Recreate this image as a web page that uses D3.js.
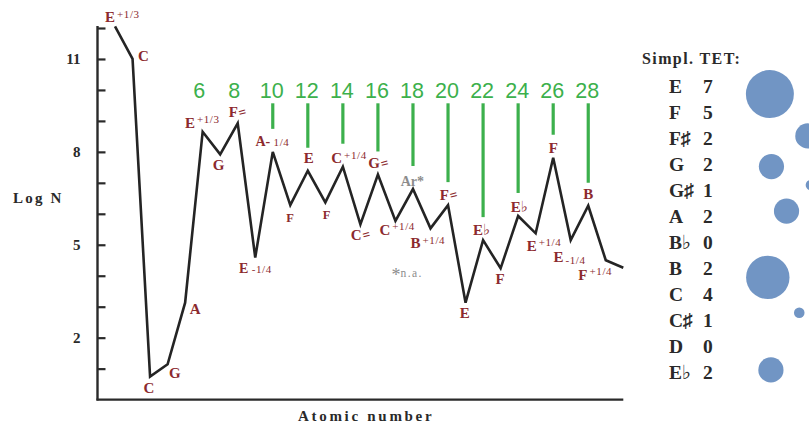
<!DOCTYPE html>
<html>
<head>
<meta charset="utf-8">
<script src="https://cdn.jsdelivr.net/npm/d3@7"></script>
<style>
  html, body { margin: 0; padding: 0; background: #fff; }
  svg { display: block; }
</style>
</head>
<body>
<svg id="chart" width="809" height="425"></svg>
<script>
// Solar-system abundances (log N) by atomic number, with the tone each point suggests
const atomicNumbers = d3.range(1, 31);
const logN = [12.05, 11.0, 0.74, 1.14, 3.13, 8.65, 7.92, 8.92, 4.59, 8.0,
              6.28, 7.39, 6.37, 7.52, 5.66, 7.27, 5.77, 6.8, 5.53, 6.28,
              3.13, 5.15, 4.24, 5.93, 5.37, 7.81, 5.15, 6.26, 4.5, 4.26];
// "^" raised suffix, "_" lowered suffix, "~" small suffix on the baseline, "=" quarter-tone sign
const noteLabels = ["E^+1/3", "C", "C", "G", "A", "E^+1/3", "G", "F=", "E~ -1/4", "A-~ 1/4",
                    "F", "E", "F", "C^+1/4", "C=", "G=", "C^+1/4", "Ar*", "B^+1/4", "F=",
                    "E", "E♭", "F", "E♭", "E^+1/4", "F", "E_-1/4", "B", "F^+1/4", ""];
const evenPeaks = [6, 8, 10, 12, 14, 16, 18, 20, 22, 24, 26, 28];
const markedPeaks = [10, 12, 14, 16, 18, 20, 22, 24, 26, 28];
const yTickValues = d3.range(1, 13);
const yTickLabels = [2, 5, 8, 11];

// Simplified equal-temperament tally
const tetNotes = ["E", "F", "F♯", "G", "G♯", "A", "B♭", "B", "C", "C♯", "D", "E♭"];
const tetCounts = [7, 5, 2, 2, 1, 2, 0, 2, 4, 1, 0, 2];
const bubbleCounts = [7, 2, 2, 1, 2, 5, 1, 2];

// ---- layout ----
const svg = d3.select("#chart");
const serif = "'Liberation Serif', 'DejaVu Serif', serif";
const sans = "'Liberation Sans', Arial, sans-serif";
const red = "#8c2a2e";
const ink = "#2a2a2a";
const green = "#3cb04c";

const x = d3.scaleLinear().domain([0, 30]).range([97.5, 623.3]);
const y = d3.scaleLinear().domain([0, 12]).range([399.6, 28]);

// y axis: ticks point inward
const yAxis = d3.axisLeft(y)
  .tickValues(yTickValues)
  .tickSizeInner(-8)
  .tickSizeOuter(0)
  .tickPadding(17)
  .tickFormat(d => yTickLabels.includes(d) ? d : "");
const gy = svg.append("g").attr("transform", `translate(${x(0)},0)`).call(yAxis);
gy.select(".domain").attr("stroke", ink).attr("stroke-width", 2.4)
  .attr("d", `M0,${y(0) + 1}V${y(12) - 2}`);
gy.selectAll(".tick line").attr("stroke", ink).attr("stroke-width", 2.2);
gy.selectAll(".tick text")
  .attr("fill", ink).attr("font-family", serif).attr("font-weight", "bold")
  .attr("font-size", 15);

// x axis: a plain baseline
const xAxis = d3.axisBottom(x).tickValues([]).tickSizeOuter(0);
const gx = svg.append("g").attr("transform", `translate(0,${y(0)})`).call(xAxis);
gx.select(".domain").attr("stroke", ink).attr("stroke-width", 2.4)
  .attr("d", `M${x(0) - 1},0H${x(30)}`);

svg.append("text")
  .attr("x", 13).attr("y", 203)
  .attr("font-family", serif).attr("font-weight", "bold").attr("font-size", 15)
  .attr("letter-spacing", 2.2).attr("fill", ink)
  .text("Log N");
svg.append("text")
  .attr("x", 298).attr("y", 421)
  .attr("font-family", serif).attr("font-weight", "bold").attr("font-size", 15)
  .attr("letter-spacing", 2.7).attr("fill", ink)
  .text("Atomic number");

// even-number peak markers
const vById = new Map(atomicNumbers.map((z, i) => [z, logN[i]]));
svg.append("g").selectAll("line")
  .data(markedPeaks).join("line")
  .attr("x1", d => x(d)).attr("x2", d => x(d))
  .attr("y1", 103.3).attr("y2", d => y(vById.get(d)) - 23)
  .attr("stroke", green).attr("stroke-width", 3.2);
svg.append("g").selectAll("text")
  .data(evenPeaks).join("text")
  .attr("x", d => x(d) + (d < 10 ? -3.5 : -1)).attr("y", 97.5)
  .attr("text-anchor", "middle")
  .attr("font-family", sans).attr("font-size", 21.5)
  .attr("fill", green)
  .text(d => d);

// abundance curve
const line = d3.line().x((d, i) => x(atomicNumbers[i])).y(d => y(d));
svg.append("path")
  .datum(logN)
  .attr("d", line)
  .attr("fill", "none").attr("stroke", "#242424")
  .attr("stroke-width", 2.6).attr("stroke-linejoin", "miter");

// label placement around each point: [dx, dy, size]
const labelPlacement = [
  [-10, -4, 15], [5.5, 2, 15], [-6.5, 16, 15], [1.5, 14, 15], [4.5, 11.5, 15],
  [-17.7, -4, 15], [-7.4, 15.7, 15], [-9, -6, 15], [-16.3, 15.7, 14], [-17.3, -5.7, 14],
  [-4, 16.7, 12.5], [-4, -7.4, 15], [-2.6, 17, 12.5], [-11.6, -3.4, 15], [-9.6, 15.7, 15],
  [-9.7, -6, 15], [-16, 14, 15], [-12.3, -3, 14], [-20, 20, 15], [-8.3, -5, 15],
  [-5.7, 15.6, 15], [-10, -5, 15], [-5, 15.7, 15], [-7.3, -4.3, 15], [-9, 17.4, 15],
  [-4.4, -5, 15], [-17.3, 21.7, 15], [-5, -6.4, 15], [-27.4, 19.3, 15], [0, 0, 15]
];

const gl = svg.append("g");
noteLabels.forEach((lab, i) => {
  if (!lab) return;
  const [dx, dy, size] = labelPlacement[i];
  const isGas = lab.startsWith("Ar");
  const t = gl.append("text")
    .attr("x", x(atomicNumbers[i]) + dx)
    .attr("y", y(logN[i]) + dy)
    .attr("font-family", serif)
    .attr("fill", isGas ? "#8c8c8c" : red);
  const m = lab.match(/^([^\^_~]*)([\^_~])?(.*)$/);
  const main = m[1], mode = m[2], suffix = m[3];
  // main glyphs, with the quarter-tone sign drawn as a tilted double stroke
  const eq = main.indexOf("=");
  const head = eq >= 0 ? main.slice(0, eq) : main;
  t.append("tspan").attr("font-weight", "bold").attr("font-size", size).text(head);
  if (eq >= 0) {
    t.append("tspan").attr("font-weight", "bold").attr("font-size", size * 0.9)
      .attr("dx", 2).attr("rotate", -15).text("=");
  }
  if (mode) {
    const shift = mode === "^" ? -4.5 : mode === "_" ? 2.5 : 0;
    t.append("tspan")
      .attr("font-size", 11).attr("font-weight", "normal")
      .attr("letter-spacing", 0.6)
      .attr("dx", mode === "~" ? 0 : 2)
      .attr("dy", shift)
      .text(suffix);
  }
});

svg.append("text")
  .attr("x", 391.5).attr("y", 277)
  .attr("font-family", serif).attr("fill", "#8c8c8c")
  .call(t => {
    t.append("tspan").attr("font-size", 18).attr("dy", 4).text("*");
    t.append("tspan").attr("font-size", 11.5).attr("letter-spacing", 1.4).attr("dy", -4).text("n.a.");
  });

// ---- Simplified TET legend ----
svg.append("text")
  .attr("x", 642).attr("y", 64)
  .attr("font-family", serif).attr("font-weight", "bold").attr("font-size", 16)
  .attr("letter-spacing", 1.4).attr("fill", ink)
  .text("Simpl. TET:");

const row = d3.scaleLinear().domain([0, 11]).range([93.3, 379.3]);
const gLeg = svg.append("g")
  .attr("font-family", serif).attr("font-weight", "bold").attr("font-size", 19.5)
  .attr("fill", ink);
gLeg.selectAll("text.note")
  .data(tetNotes).join("text").attr("class", "note")
  .attr("x", 669).attr("y", (d, i) => row(i))
  .text(d => d);
gLeg.selectAll("text.count")
  .data(tetCounts).join("text").attr("class", "count")
  .attr("x", 703).attr("y", (d, i) => row(i))
  .text(d => d);

// bubbles beside the tally: [lane, row] placement for each bubble
const bubblePlacement = [
  [0.19, 0.03], [0.92, 1.64], [0.22, 2.82], [0.98, 3.53],
  [0.51, 4.53], [0.15, 7.08], [0.755, 8.44], [0.21, 10.64]
];
const lane = d3.scaleLinear().domain([0, 1]).range([760, 812]);
const radius = d3.scaleLinear().domain([1, 2, 5, 7]).range([5.3, 12.6, 21.7, 24]);
svg.append("g").selectAll("circle")
  .data(bubbleCounts).join("circle")
  .attr("cx", (d, i) => lane(bubblePlacement[i][0]))
  .attr("cy", (d, i) => row(bubblePlacement[i][1]))
  .attr("r", d => radius(d))
  .attr("fill", "#7195c4");
</script>
</body>
</html>
